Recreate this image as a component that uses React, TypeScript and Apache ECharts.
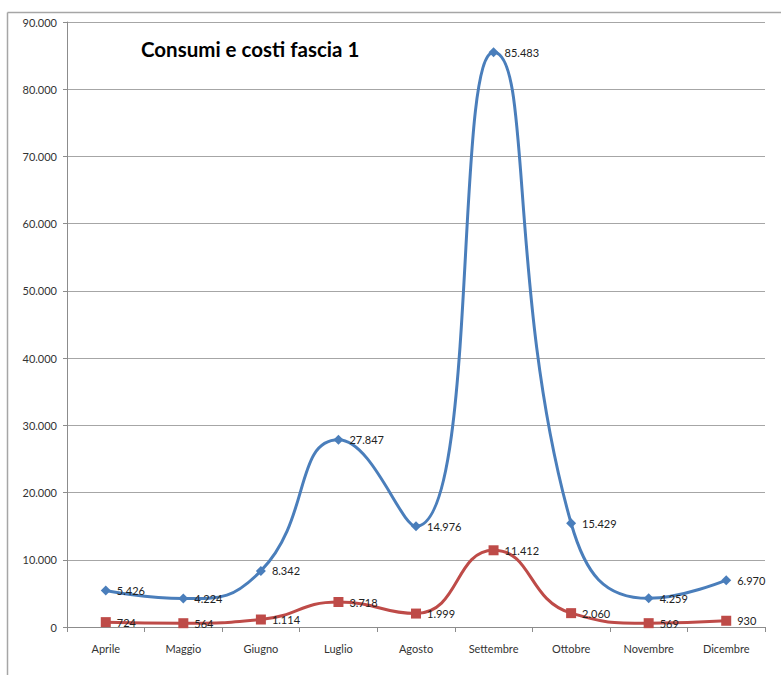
import React, { useEffect, useRef } from "react";
import * as echarts from "echarts";

const categories = ["Aprile", "Maggio", "Giugno", "Luglio", "Agosto", "Settembre", "Ottobre", "Novembre", "Dicembre"];
const consumi = [5426, 4224, 8342, 27847, 14976, 85483, 15429, 4259, 6970];
const costi = [724, 564, 1114, 3718, 1999, 11412, 2060, 569, 930];
const yMin = 0;
const yMax = 90000;
const yInterval = 10000;

const fmt = (v: number) => {
  if (v === 0) return "0";
  const s = Math.round(v).toString();
  return s.replace(/\B(?=(\d{3})+(?!\d))/g, ".");
};

export default function App() {
  const ref = useRef<HTMLDivElement>(null);
  useEffect(() => {
    if (!ref.current) return;
    const chart = echarts.init(ref.current, null, { renderer: "svg" });
    const font = "Lato, 'Open Sans', sans-serif";
    chart.setOption({
      animation: false,
      backgroundColor: "#ffffff",
      textStyle: { fontFamily: font },
      title: {
        text: "Consumi e costi fascia 1",
        left: 136,
        top: 33,
        textStyle: { fontFamily: font, fontWeight: "bold", fontSize: 20.5, color: "#000000" },
      },
      graphic: [
        {
          type: "line",
          shape: { x1: 7.5, y1: 12.5, x2: 781, y2: 12.5 },
          style: { stroke: "#a6a6a6", lineWidth: 1.5 },
          silent: true,
        },
        {
          type: "line",
          shape: { x1: 7.5, y1: 12.5, x2: 7.5, y2: 675 },
          style: { stroke: "#a6a6a6", lineWidth: 1.5 },
          silent: true,
        },
      ],
      grid: { left: 67, top: 22, right: 16, bottom: 48, containLabel: false },
      xAxis: {
        type: "category",
        data: categories,
        boundaryGap: true,
        axisLine: { lineStyle: { color: "#8c8c8c" } },
        axisTick: { show: true, length: 5, lineStyle: { color: "#8c8c8c" }, alignWithLabel: false },
        axisLabel: { color: "#333333", fontSize: 11, margin: 16, fontFamily: font },
        splitLine: { show: false },
      },
      yAxis: {
        type: "value",
        min: yMin,
        max: yMax,
        interval: yInterval,
        axisLine: { show: true, lineStyle: { color: "#8c8c8c" } },
        axisTick: { show: true, length: 4, lineStyle: { color: "#8c8c8c" } },
        axisLabel: { color: "#333333", fontSize: 11, margin: 10, formatter: (v: number) => fmt(v), fontFamily: font },
        splitLine: { show: true, lineStyle: { color: "#a6a6a6", width: 1 } },
      },
      series: [
        {
          name: "Consumi",
          type: "line",
          data: consumi,
          smooth: 0.5,
          symbol: "diamond",
          symbolSize: 10,
          lineStyle: { color: "#4a7ebb", width: 3 },
          itemStyle: { color: "#4a7ebb" },
          label: {
            show: true,
            position: "right",
            distance: 6,
            formatter: (p: any) => fmt(p.value),
            color: "#222222",
            fontSize: 11,
            fontFamily: font,
          },
          z: 3,
        },
        {
          name: "Costi",
          type: "line",
          data: costi,
          smooth: 0.5,
          symbol: "rect",
          symbolSize: 10,
          lineStyle: { color: "#be4b48", width: 3 },
          itemStyle: { color: "#be4b48" },
          label: {
            show: true,
            position: "right",
            distance: 6,
            formatter: (p: any) => fmt(p.value),
            color: "#222222",
            fontSize: 11,
            fontFamily: font,
          },
          z: 2,
        },
      ],
    });
    return () => chart.dispose();
  }, []);
  return (
    <div
      ref={ref}
      style={{ position: "fixed", left: 0, top: 0, width: 781, height: 675 }}
    />
  );
}
